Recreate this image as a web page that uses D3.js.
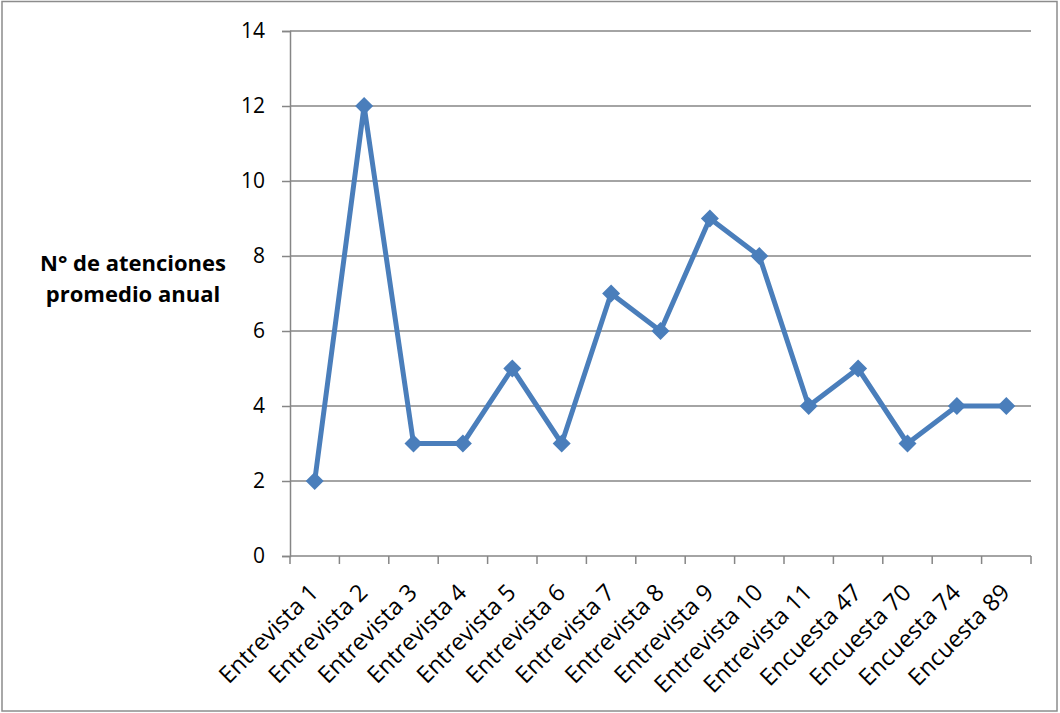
<!DOCTYPE html>
<html>
<head>
<meta charset="utf-8">
<script src="https://cdn.jsdelivr.net/npm/d3@7"></script>
<style>
  html, body { margin: 0; padding: 0; background: #fff; }
  svg { display: block; }
</style>
</head>
<body>
<svg id="chart" width="1060" height="713"></svg>
<script>
// Average yearly number of attentions per interview / survey
const categories = [
  "Entrevista 1", "Entrevista 2", "Entrevista 3", "Entrevista 4", "Entrevista 5",
  "Entrevista 6", "Entrevista 7", "Entrevista 8", "Entrevista 9", "Entrevista 10",
  "Entrevista 11", "Encuesta 47", "Encuesta 70", "Encuesta 74", "Encuesta 89"
];
const values = [2, 12, 3, 3, 5, 3, 7, 6, 9, 8, 4, 5, 3, 4, 4];
const yTicks = [0, 2, 4, 6, 8, 10, 12, 14];
const yTitle = ["N° de atenciones", "promedio anual"];

const svg = d3.select("#chart");
const W = 1060, H = 713;
const plot = { left: 290, right: 1031, top: 31, bottom: 556 };
const font = "'Open Sans', 'Liberation Sans', sans-serif";
const gridColor = "#868686";
const lineColor = "#4a7ebb";

// outer frame
svg.append("rect")
  .attr("x", 2).attr("y", 1.5).attr("width", W - 5).attr("height", H - 3.5)
  .attr("fill", "#fff").attr("stroke", "#8c8c8c").attr("stroke-width", 1.5);

const x = d3.scaleBand().domain(categories).range([plot.left, plot.right]).padding(0);
const y = d3.scaleLinear().domain([0, 14]).range([plot.bottom, plot.top]);

// horizontal gridlines
svg.append("g").selectAll("line").data(yTicks.filter(d => d > 0)).join("line")
  .attr("x1", plot.left).attr("x2", plot.right)
  .attr("y1", d => y(d)).attr("y2", d => y(d))
  .attr("stroke", gridColor).attr("stroke-width", 1.5);

// y axis
const yAxis = svg.append("g")
  .attr("transform", `translate(${plot.left},0)`)
  .call(d3.axisLeft(y).tickValues(yTicks).tickSize(8).tickPadding(17));
yAxis.select(".domain").attr("stroke", gridColor).attr("stroke-width", 1.5);
yAxis.selectAll(".tick line").attr("stroke", gridColor).attr("stroke-width", 1.5);
yAxis.selectAll(".tick text")
  .attr("font-family", font).attr("font-size", 21).attr("fill", "#000");

// x axis: ticks sit between categories
const boundaries = d3.range(categories.length + 1).map(i => plot.left + i * x.bandwidth());
const xAxisG = svg.append("g");
xAxisG.append("line")
  .attr("x1", plot.left).attr("x2", plot.right).attr("y1", plot.bottom).attr("y2", plot.bottom)
  .attr("stroke", gridColor).attr("stroke-width", 1.5);
xAxisG.selectAll("line.tk").data(boundaries).join("line").attr("class", "tk")
  .attr("x1", d => d).attr("x2", d => d).attr("y1", plot.bottom).attr("y2", plot.bottom + 8)
  .attr("stroke", gridColor).attr("stroke-width", 1.5);
xAxisG.selectAll("text").data(categories).join("text")
  .attr("transform", d => `translate(${x(d) + x.bandwidth() / 2 + 5},${plot.bottom + 38}) rotate(-45)`)
  .attr("text-anchor", "end")
  .attr("font-family", font).attr("font-size", 23.5).attr("fill", "#000")
  .text(d => d);

// y title
svg.append("text")
  .attr("x", 133).attr("y", 271)
  .attr("text-anchor", "middle")
  .attr("font-family", font).attr("font-size", 22).attr("font-weight", "bold")
  .selectAll("tspan").data(yTitle).join("tspan")
  .attr("x", 133).attr("dy", (d, i) => i === 0 ? 0 : 31)
  .text(d => d);

// series line
const cx = d => x(d) + x.bandwidth() / 2;
svg.append("path")
  .datum(categories.map((c, i) => [cx(c), y(values[i])]))
  .attr("fill", "none").attr("stroke", lineColor).attr("stroke-width", 5)
  .attr("stroke-linejoin", "round")
  .attr("d", d3.line());

// diamond markers
svg.append("g").selectAll("path").data(categories).join("path")
  .attr("transform", (c, i) => `translate(${cx(c)},${y(values[i])})`)
  .attr("d", "M0,-9L9,0L0,9L-9,0Z")
  .attr("fill", lineColor);
</script>
</body>
</html>
